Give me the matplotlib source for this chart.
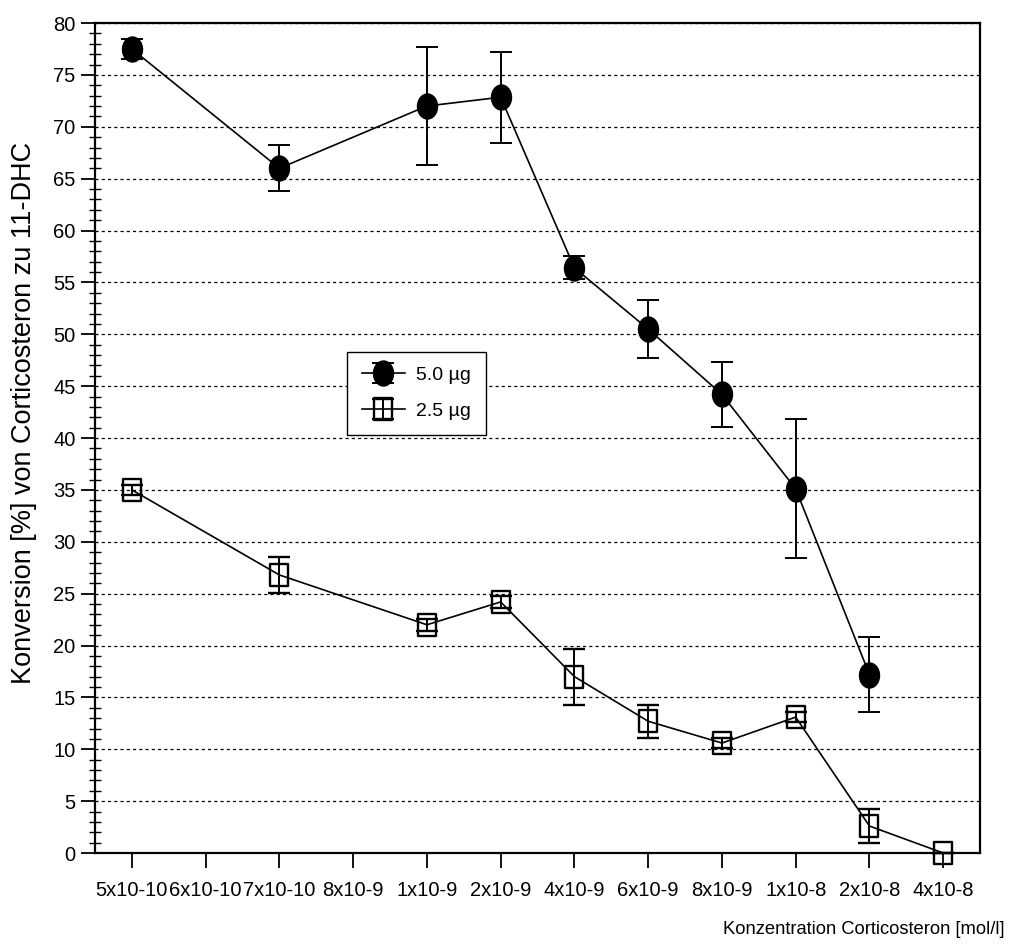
import numpy as np
import matplotlib.pyplot as plt
from matplotlib.path import Path
from matplotlib.transforms import Affine2D
from matplotlib.ticker import MultipleLocator

plt.rcParams['font.family'] = ['Liberation Sans', 'DejaVu Sans']

# Konzentrationsstufen (kategoriale x-Achse)
konz = ["5x10-10", "6x10-10", "7x10-10", "8x10-9", "1x10-9", "2x10-9",
        "4x10-9", "6x10-9", "8x10-9", "1x10-8", "2x10-8", "4x10-8"]

# 5.0 µg Enzym
pos_50 = [0, 2, 4, 5, 6, 7, 8, 9, 10]
konv_50 = [77.5, 66.0, 72.0, 72.85, 56.4, 50.5, 44.2, 35.1, 17.2]
err_50 = [1.0, 2.2, 5.7, 4.4, 1.1, 2.8, 3.1, 6.7, 3.6]

# 2.5 µg Enzym
pos_25 = [0, 2, 4, 5, 6, 7, 8, 9, 10, 11]
konv_25 = [35.0, 26.8, 22.0, 24.2, 17.0, 12.7, 10.6, 13.1, 2.6, 0.0]
err_25 = [0.5, 1.75, 0.6, 0.6, 2.7, 1.6, 0.5, 0.5, 1.6, 0.0]

# leicht hochgestellte Symbole (Ellipse / Rechteck)
streck = Affine2D().scale(1.0, 1.25)
ellipse = streck.transform_path(Path.unit_circle())
rechteck = streck.transform_path(Path.unit_rectangle().transformed(Affine2D().translate(-0.5, -0.5)))

fig = plt.figure(figsize=(10.15, 9.48), dpi=100)
ax = fig.add_axes([0.0936, 0.1002, 0.872, 0.8755])

ax.errorbar(pos_50, konv_50, yerr=err_50, fmt='-', marker=ellipse,
            color='black', markersize=18, linewidth=1.2, elinewidth=1.4,
            capsize=8, capthick=1.4, label='5.0 µg', clip_on=False, zorder=3)
ax.errorbar(pos_25, konv_25, yerr=err_25, fmt='-', marker=rechteck,
            color='black', markerfacecolor='none', markeredgewidth=1.7,
            markersize=16, linewidth=1.2, elinewidth=1.4, capsize=8,
            capthick=1.4, label='2.5 µg', clip_on=False, zorder=3)

ax.set_xlim(-0.5, 11.5)
ax.set_ylim(0, 80)
ax.set_xticks(range(len(konz)))
ax.set_xticklabels(konz)
ax.yaxis.set_major_locator(MultipleLocator(5))
ax.yaxis.set_minor_locator(MultipleLocator(1))

ax.grid(axis='y', which='major', color='black', linestyle=(0, (2.5, 2.5)),
        linewidth=0.9)
ax.set_axisbelow(True)

for s in ax.spines.values():
    s.set_linewidth(1.6)

ax.tick_params(axis='x', direction='out', length=11, width=1.3,
               labelsize=14.5, pad=9)
ax.tick_params(axis='y', which='major', direction='out', length=10,
               width=1.3, labelsize=14.5, pad=4)
ax.tick_params(axis='y', which='minor', direction='inout', length=8,
               width=1.0)

ax.set_ylabel('Konversion [%] von Corticosteron zu 11-DHC', fontsize=19.5)
ax.yaxis.set_label_coords(-0.066, 0.53)
fig.text(0.99, 0.019, 'Konzentration Corticosteron [mol/l]', fontsize=13.2,
         ha='right', va='center')

leg = ax.legend(loc='upper left', bbox_to_anchor=(0.285, 0.604),
                borderaxespad=0, fontsize=14, fancybox=False,
                edgecolor='black', framealpha=1, handlelength=2.2,
                borderpad=0.75, labelspacing=0.95, handletextpad=0.6)
leg.get_frame().set_linewidth(1.0)

fig.savefig('out.png', dpi=100)
